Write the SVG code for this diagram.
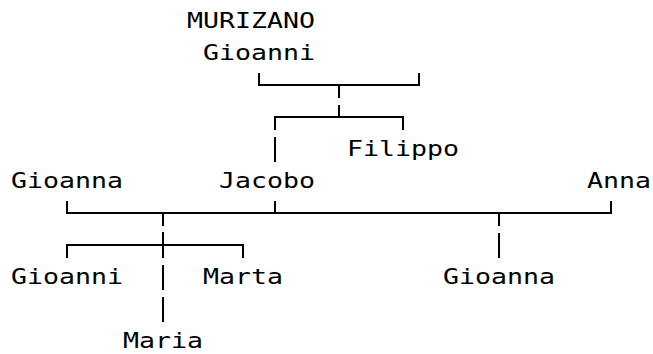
<svg xmlns="http://www.w3.org/2000/svg" width="653" height="354" viewBox="0 0 653 354">
<style>
text{font-family:"DejaVu Sans Mono","Liberation Mono",monospace;font-size:20.5px;fill:#000}
.c{stroke:#000;stroke-width:2;fill:none}
</style>
<rect width="653" height="354" fill="#fff"/>
<g id="connectors" class="c">
<path d="M259 73V85H419V73M339 85V98"/>
<path d="M339 105V117M275 130V117H403V130"/>
<path d="M275 137V162"/>
<path d="M67 201V213H611V201M275 201V213M163 213V226M499 213V226"/>
<path d="M67 258V245H243V258M163 232V258M499 233V258"/>
<path d="M163 265V290M163 297V322"/>
</g>
<g id="n-murizano"><text x="187" y="28" textLength="128" lengthAdjust="spacingAndGlyphs">MURIZANO</text></g>
<g id="n-gioanni-top"><text x="203" y="60" textLength="112" lengthAdjust="spacingAndGlyphs">Gioanni</text></g>
<g id="n-filippo"><text x="347" y="156" textLength="112" lengthAdjust="spacingAndGlyphs">Filippo</text></g>
<g id="n-gioanna-left"><text x="11" y="188" textLength="112" lengthAdjust="spacingAndGlyphs">Gioanna</text></g>
<g id="n-jacobo"><text x="219" y="188" textLength="96" lengthAdjust="spacingAndGlyphs">Jacobo</text></g>
<g id="n-anna"><text x="587" y="188" textLength="64" lengthAdjust="spacingAndGlyphs">Anna</text></g>
<g id="n-gioanni-bottom"><text x="11" y="284" textLength="112" lengthAdjust="spacingAndGlyphs">Gioanni</text></g>
<g id="n-marta"><text x="203" y="284" textLength="80" lengthAdjust="spacingAndGlyphs">Marta</text></g>
<g id="n-gioanna-right"><text x="443" y="284" textLength="112" lengthAdjust="spacingAndGlyphs">Gioanna</text></g>
<g id="n-maria"><text x="123" y="348" textLength="80" lengthAdjust="spacingAndGlyphs">Maria</text></g>
</svg>
